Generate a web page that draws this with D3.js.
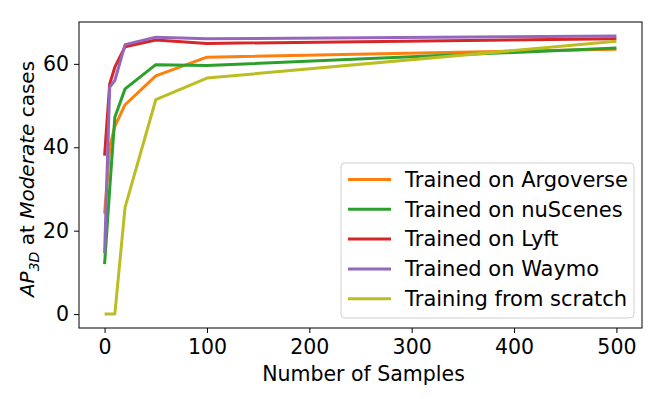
<!DOCTYPE html>
<meta charset="utf-8">
<script src="https://d3js.org/d3.v7.min.js"></script>
<style>
  body { margin: 0; background: #fff; }
  text { font-family: "DejaVu Sans", sans-serif; fill: #000; }
</style>
<body>
<div id="my_visual"></div>
<script>

// Number of samples on the x axis
var samples = [0, 5, 10, 20, 50, 100, 500];

// AP_3D values, one array per model
var argoverse = [24.1, 40.0, 45.0, 50.2, 57.1, 61.6, 63.5];
var nuscenes  = [12.0, 30.0, 47.2, 54.0, 59.8, 59.6, 63.8];
var lyft      = [38.0, 55.2, 59.2, 64.1, 65.7, 64.9, 66.0];
var waymo     = [14.6, 54.4, 56.0, 64.6, 66.4, 66.0, 66.7];
var scratch   = [0.0, 0.0, 0.0, 25.6, 51.4, 56.6, 65.4];

var seriesNames = ["Trained on Argoverse", "Trained on nuScenes", "Trained on Lyft",
                   "Trained on Waymo", "Training from scratch"];
var seriesColors = ["#ff7f0e", "#2ca02c", "#d62728", "#9467bd", "#bcbd22"];
var seriesValues = [argoverse, nuscenes, lyft, waymo, scratch];

var xTicks = [0, 100, 200, 300, 400, 500];
var yTicks = [0, 20, 40, 60];

// margins of the visual
var margin = {top: 22, right: 22, bottom: 71, left: 79},
    width = 664 - margin.left - margin.right,
    height = 399 - margin.top - margin.bottom;

var svg = d3.select("#my_visual")
  .append("svg")
    .attr("width", 664)
    .attr("height", 399)
  .append("g")
    .attr("transform", "translate(" + margin.left + "," + margin.top + ")");

// matplotlib style 5% padding on both axes
var x = d3.scaleLinear()
    .domain([-25, 525])
    .range([0, width]);

var yMax = 66.7;
var y = d3.scaleLinear()
    .domain([-0.05 * yMax, yMax * 1.05])
    .range([height, 0]);

// lines
var line = d3.line()
    .x(function(d, i) { return x(samples[i]); })
    .y(function(d) { return y(d); });

svg.append("g")
  .selectAll("path")
  .data(seriesValues)
  .enter()
  .append("path")
    .attr("d", line)
    .attr("fill", "none")
    .attr("stroke", function(d, i) { return seriesColors[i]; })
    .attr("stroke-width", 3)
    .attr("stroke-linejoin", "round");

// frame
svg.append("rect")
  .attr("width", width)
  .attr("height", height)
  .attr("fill", "none")
  .attr("stroke", "#000")
  .attr("stroke-width", 1);

// X axis
var xAxis = svg.append("g")
  .attr("transform", "translate(0," + height + ")")
  .call(d3.axisBottom(x).tickValues(xTicks).tickSize(5).tickPadding(6));
xAxis.select(".domain").remove();
xAxis.selectAll("text").style("font-size", "20.5px").attr("fill", "#000");

svg.append("text")
  .attr("text-anchor", "middle")
  .attr("x", width / 2 + 3)
  .attr("y", height + 53)
  .style("font-size", "20.5px")
  .text("Number of Samples");

// Y axis
var yAxis = svg.append("g")
  .call(d3.axisLeft(y).tickValues(yTicks).tickSize(5).tickPadding(5));
yAxis.select(".domain").remove();
yAxis.selectAll("text").style("font-size", "20.5px").attr("fill", "#000");

var ylab = svg.append("text")
  .attr("text-anchor", "middle")
  .attr("transform", "translate(-45," + (height / 2 + 4) + ") rotate(-90)")
  .style("font-size", "20px");
ylab.append("tspan").attr("font-style", "italic").text("AP");
ylab.append("tspan").attr("font-style", "italic").attr("font-size", "14px")
  .attr("dy", 5).text("3D");
ylab.append("tspan").attr("dy", -5).text(" at ");
ylab.append("tspan").attr("font-style", "italic").text("Moderate");
ylab.append("tspan").text(" cases");

// legend
var legend = svg.append("g")
  .attr("transform", "translate(" + (341 - margin.left) + "," + (163 - margin.top) + ")");

legend.append("rect")
  .attr("width", 293)
  .attr("height", 155)
  .attr("rx", 4)
  .attr("fill", "#fff")
  .attr("fill-opacity", 0.8)
  .attr("stroke", "#d0d0d0")
  .attr("stroke-width", 1);

var item = legend.selectAll(".item")
  .data(seriesNames)
  .enter()
  .append("g")
    .attr("transform", function(d, i) { return "translate(0," + (16.5 + i * 29.8) + ")"; });

item.append("line")
  .attr("x1", 7).attr("x2", 50)
  .attr("stroke", function(d, i) { return seriesColors[i]; })
  .attr("stroke-width", 3);

item.append("text")
  .attr("x", 64)
  .attr("dy", "0.35em")
  .style("font-size", "21px")
  .text(function(d) { return d; });

</script>
</body>
</html>
